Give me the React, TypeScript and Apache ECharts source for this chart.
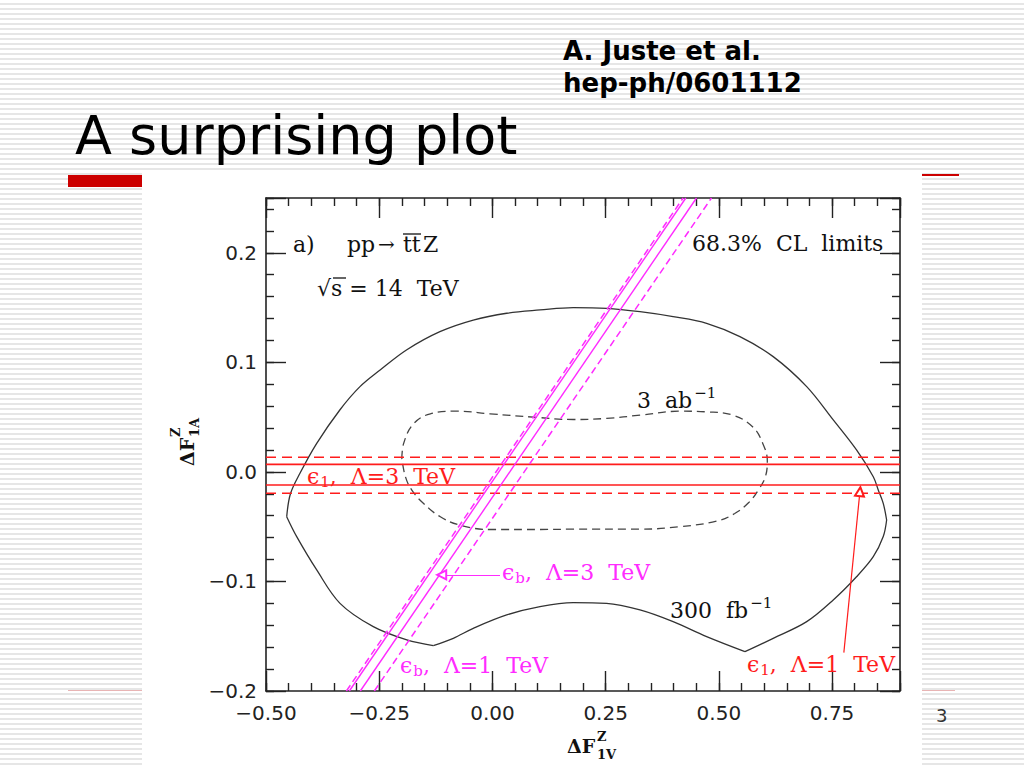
import React, { useEffect, useRef } from "react";
import * as echarts from "echarts";

// ---------- axes ----------
const xMin = -0.5;
const xMax = 0.9;
const yMin = -0.2;
const yMax = 0.25;
const xMajorStep = 0.25;
const xMinorStep = 0.05;
const yMajorStep = 0.1;
const yMinorStep = 0.02;

// ---------- 300 fb^-1 contour (solid), split at its corners ----------
const contour300Left: number[][] = [
  [-0.1306, -0.1586], [-0.189, -0.1534], [-0.2631, -0.1413], [-0.3366, -0.12],
  [-0.388, -0.0895], [-0.4322, -0.0591], [-0.4543, -0.0409],
];
const contour300Top: number[][] = [
  [-0.4543, -0.0409], [-0.446, -0.02], [-0.425, -0.0013], [-0.388, 0.026],
  [-0.337, 0.0565], [-0.2925, 0.0778], [-0.248, 0.093], [-0.189, 0.1115],
  [-0.116, 0.128], [-0.0423, 0.1386], [0.0315, 0.1448], [0.105, 0.1478],
  [0.1785, 0.15], [0.252, 0.1493], [0.3258, 0.1462], [0.399, 0.1417],
  [0.473, 0.1356], [0.5465, 0.1234], [0.62, 0.1052], [0.694, 0.0778],
  [0.7526, 0.0474], [0.804, 0.02], [0.841, -0.0044], [0.852, -0.0165],
  [0.863, -0.0287], [0.8705, -0.0439],
];
const contour300Right: number[][] = [
  [0.8705, -0.0439], [0.863, -0.059], [0.841, -0.0774], [0.804, -0.0957],
  [0.7526, -0.1169], [0.694, -0.1367], [0.62, -0.1519], [0.5576, -0.1641],
];
const contour300Bottom: number[][] = [
  [0.5576, -0.1641], [0.473, -0.1504], [0.399, -0.1367], [0.3258, -0.126],
  [0.252, -0.12], [0.1785, -0.1194], [0.105, -0.123], [0.0315, -0.1306],
  [-0.0423, -0.1428], [-0.0864, -0.1519], [-0.1306, -0.1586],
];

// ---------- 3 ab^-1 contour (dashed) ----------
const contour3ab: number[][] = [
  [-0.2, 0.012], [-0.196, 0.026], [-0.174, 0.044], [-0.137, 0.053],
  [-0.079, 0.0554], [-0.005, 0.053], [0.09, 0.05], [0.179, 0.0478],
  [0.252, 0.0488], [0.326, 0.0518], [0.414, 0.0554], [0.473, 0.0548],
  [0.531, 0.0518], [0.575, 0.041], [0.597, 0.026], [0.607, 0.01],
  [0.603, -0.004], [0.588, -0.016], [0.566, -0.028], [0.535, -0.038],
  [0.495, -0.045], [0.414, -0.05], [0.326, -0.0523], [0.179, -0.0523],
  [0.105, -0.0526], [-0.005, -0.0526], [-0.071, -0.0487], [-0.115, -0.041],
  [-0.152, -0.0289], [-0.178, -0.0167], [-0.192, -0.0046], [-0.2, 0.012],
];

// ---------- eps_1 limits (horizontal, red) ----------
const eps1Lambda3Y = [0.0069, -0.012]; // solid
const eps1Lambda1Y = [0.0133, -0.0195]; // dashed

// ---------- eps_b limits (diagonal, magenta): [bottom x at y=-0.2, top x at y=0.25] ----------
const epsbLambda3X = [
  [-0.316, 0.427],
  [-0.2917, 0.4506],
]; // solid
const epsbLambda1X = [
  [-0.3225, 0.421],
  [-0.2608, 0.4837],
]; // dashed

// ---------- annotation arrows ----------
const arrowEpsb3 = [[0.0167, -0.094], [-0.112, -0.094]];
const arrowEps11 = [[0.776, -0.165], [0.8115, -0.018]];

const RED = "#ff1c1c";
const MAGENTA = "#ff2bff";
const INK = "#222";
const SERIF = '"DejaVu Serif"';

function lineSeries(data: number[][], color: string, width: number, type: any, smooth: number, z = 3) {
  return {
    type: "line",
    xAxisIndex: 0,
    yAxisIndex: 0,
    data,
    symbol: "none",
    showSymbol: false,
    smooth,
    silent: true,
    z,
    lineStyle: { color, width, type },
  };
}

function arrowSeries(coords: number[][], color: string) {
  return {
    type: "lines",
    coordinateSystem: "cartesian2d",
    xAxisIndex: 0,
    yAxisIndex: 0,
    silent: true,
    z: 6,
    symbol: ["none", "emptyTriangle"],
    symbolSize: 9,
    lineStyle: { color, width: 1.2, opacity: 1, curveness: 0 },
    data: [{ coords }],
  };
}

function fmtX(v: number) {
  const k = v / xMajorStep;
  if (Math.abs(k - Math.round(k)) > 1e-6) return "";
  const s = Math.abs(v).toFixed(2);
  return v < -1e-9 ? "\u2212" + s : s;
}
function fmtY(v: number) {
  const k = v / yMajorStep;
  if (Math.abs(k - Math.round(k)) > 1e-6) return "";
  const s = Math.abs(v).toFixed(1);
  return v < -1e-9 ? "\u2212" + s : s;
}

const frame = { show: true, onZero: false, lineStyle: { color: INK, width: 1.6 } };
const tickStyle = { color: INK, width: 1.4 };

function xAx(position: string, step: number, major: boolean) {
  return {
    type: "value",
    position,
    min: xMin,
    max: xMax,
    interval: step,
    splitLine: { show: false },
    axisLine: major ? frame : { show: false, onZero: false },
    axisTick: { show: true, inside: true, length: major ? 20 : 8, lineStyle: tickStyle },
    axisLabel:
      major && position === "bottom"
        ? { show: true, formatter: fmtX, margin: 12, fontSize: 20, fontFamily: "DejaVu Sans", color: INK }
        : { show: false },
  };
}
function yAx(position: string, step: number, major: boolean) {
  return {
    type: "value",
    position,
    min: yMin,
    max: yMax,
    interval: step,
    splitLine: { show: false },
    axisLine: major ? frame : { show: false, onZero: false },
    axisTick: { show: true, inside: true, length: major ? 20 : 8, lineStyle: tickStyle },
    axisLabel:
      major && position === "left"
        ? { show: true, formatter: fmtY, margin: 9, fontSize: 20, fontFamily: "DejaVu Sans", color: INK }
        : { show: false },
  };
}

function rich(color: string) {
  return {
    m: { fontSize: 22, fontFamily: SERIF, fill: color },
    sub: { fontSize: 15, fontFamily: SERIF, fill: color, padding: [12, 0, 0, 1] },
    sup: { fontSize: 15, fontFamily: SERIF, fill: color, padding: [0, 0, 14, 2] },
  };
}
function label(x: number, y: number, text: string, color: string) {
  return {
    type: "text",
    x,
    y,
    z: 20,
    style: {
      text,
      fill: color,
      font: `22px ${SERIF}`,
      align: "left",
      verticalAlign: "middle",
      rich: rich(color),
    },
  };
}
function plain(x: number, y: number, text: string, font: string, color: string, extra: any = {}) {
  return {
    type: "text",
    x,
    y,
    z: 20,
    ...extra,
    style: { text, font, fill: color, align: "left", verticalAlign: "middle" },
  };
}

function buildOption() {
  const series: any[] = [];
  // contours
  [contour300Left, contour300Top, contour300Right, contour300Bottom].forEach((d) =>
    series.push(lineSeries(d, "#333", 1.3, "solid", 0.35))
  );
  series.push(lineSeries(contour3ab, "#444", 1.3, [8, 5], 0.4));
  // red horizontal lines
  eps1Lambda3Y.forEach((y) => series.push(lineSeries([[xMin, y], [xMax, y]], RED, 1.6, "solid", 0, 4)));
  eps1Lambda1Y.forEach((y) => series.push(lineSeries([[xMin, y], [xMax, y]], RED, 1.6, [10, 6], 0, 4)));
  // magenta diagonal lines
  epsbLambda1X.forEach(([a, b]) =>
    series.push(lineSeries([[a, yMin], [b, yMax]], MAGENTA, 1.5, [7, 4], 0, 5))
  );
  epsbLambda3X.forEach(([a, b]) =>
    series.push(lineSeries([[a, yMin], [b, yMax]], MAGENTA, 1.4, "solid", 0, 5))
  );
  // arrows
  series.push(arrowSeries(arrowEpsb3, MAGENTA));
  series.push(arrowSeries(arrowEps11, RED));

  const graphic: any[] = [
    // slide decorations
    { type: "rect", z: -30, shape: { x: 68, y: 175, width: 74, height: 12 }, style: { fill: "#cc0000" } },
    { type: "rect", z: -30, shape: { x: 142, y: 174, width: 817, height: 2 }, style: { fill: "#cc0000" } },
    { type: "line", z: -30, shape: { x1: 68, y1: 690.5, x2: 955, y2: 690.5 }, style: { stroke: "#e8b4b4", lineWidth: 1 } },
    { type: "rect", z: -20, shape: { x: 142, y: 172, width: 780, height: 596 }, style: { fill: "#ffffff" } },
    // slide texts
    plain(75, 135, "A surprising plot", '54px "DejaVu Sans"', "#000"),
    plain(563, 51, "A. Juste et al.", 'bold 26px "DejaVu Sans"', "#000"),
    plain(563, 83, "hep-ph/0601112", 'bold 26px "DejaVu Sans"', "#000"),
    plain(936, 715, "3", '18px "DejaVu Sans"', "#333"),
    // plot annotations
    plain(293, 244, "a)", `22px ${SERIF}`, "#111"),
    plain(347, 244, "pp", `22px ${SERIF}`, "#111"),
    plain(378, 244, "\u2192", `20px ${SERIF}`, "#111"),
    plain(403, 244, "tt", `22px ${SERIF}`, "#111"),
    plain(423, 244, "Z", `22px ${SERIF}`, "#111"),
    { type: "line", z: 20, shape: { x1: 403, y1: 234, x2: 421, y2: 234 }, style: { stroke: "#111", lineWidth: 1.3 } },
    plain(317, 288, "\u221As = 14  TeV", `22px ${SERIF}`, "#111"),
    { type: "line", z: 20, shape: { x1: 333, y1: 278, x2: 346, y2: 278 }, style: { stroke: "#111", lineWidth: 1.3 } },
    plain(692, 243, "68.3%  CL  limits", `22px ${SERIF}`, "#111"),
    label(637, 400, "{m|3  ab}{sup|\u22121}", "#111"),
    label(670, 610, "{m|300  fb}{sup|\u22121}", "#111"),
    label(307, 476, "{m|\u03F5}{sub|1}{m|,  \u039B=3  TeV}", RED),
    label(502, 572, "{m|\u03F5}{sub|b}{m|,  \u039B=3  TeV}", MAGENTA),
    label(400, 665, "{m|\u03F5}{sub|b}{m|,  \u039B=1  TeV}", MAGENTA),
    label(747, 664, "{m|\u03F5}{sub|1}{m|,  \u039B=1  TeV}", RED),
    // axis titles
    {
      type: "group",
      x: 581,
      y: 746,
      children: [
        plain(-14, 0, "\u0394F", `bold 19px ${SERIF}`, "#111"),
        plain(16, -10, "Z", `bold 13px ${SERIF}`, "#111"),
        plain(16, 8, "1V", `bold 13px ${SERIF}`, "#111"),
      ],
    },
    {
      type: "group",
      x: 187,
      y: 446,
      rotation: Math.PI / 2,
      children: [
        plain(-20, 0, "\u0394F", `bold 19px ${SERIF}`, "#111"),
        plain(9, -12, "Z", `bold 13px ${SERIF}`, "#111"),
        plain(9, 7, "1A", `bold 13px ${SERIF}`, "#111"),
      ],
    },
  ];

  return {
    animation: false,
    backgroundColor: "transparent",
    grid: { left: 266, top: 198, width: 634, height: 493, containLabel: false, outerBoundsMode: "none" },
    xAxis: [
      xAx("bottom", xMajorStep, true),
      xAx("bottom", xMinorStep, false),
      xAx("top", xMajorStep, true),
      xAx("top", xMinorStep, false),
    ],
    yAxis: [
      yAx("left", yMajorStep, true),
      yAx("left", yMinorStep, false),
      yAx("right", yMajorStep, true),
      yAx("right", yMinorStep, false),
    ],
    series,
    graphic,
  };
}

export default function App() {
  const ref = useRef<HTMLDivElement>(null);
  useEffect(() => {
    if (!ref.current) return;
    const chart = echarts.init(ref.current, undefined, { renderer: "svg" });
    chart.setOption(buildOption() as any);
    return () => chart.dispose();
  }, []);
  return (
    <div
      ref={ref}
      style={{
        position: "absolute",
        left: 0,
        top: 0,
        width: 1024,
        height: 768,
        background:
          "repeating-linear-gradient(to bottom, #ffffff 0px, #ffffff 3px, #e6e6e6 3px, #e6e6e6 5px)",
      }}
    />
  );
}
